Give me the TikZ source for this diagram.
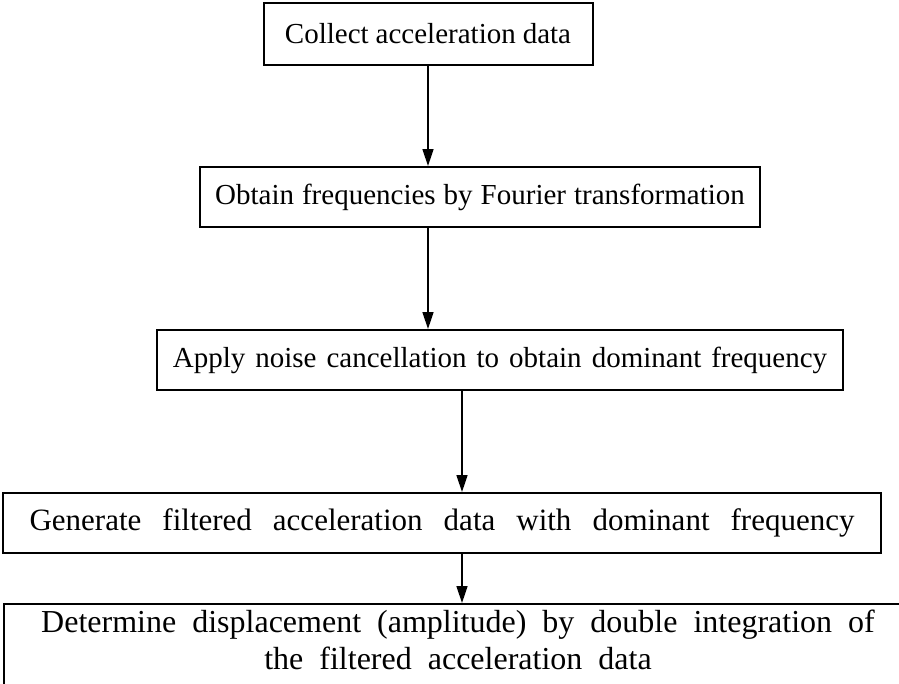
\documentclass[tikz,border=0pt]{standalone}
\usepackage{fontspec}
\setmainfont{Liberation Serif}
\usetikzlibrary{arrows.meta}
\newcommand\wordgap[1]{\spaceskip=#1\relax}
\tikzset{
  stepbox/.style={draw=black, line width=2pt, rectangle, inner sep=0pt, align=center,
    font=\fontsize{29}{36}\selectfont},
  flow/.style={draw=black, line width=1.5pt, -{Triangle[length=17pt,width=11pt]}}
}
\begin{document}
\begin{tikzpicture}[x=1pt,y=1pt]
\useasboundingbox (0,0) rectangle (899,-683);
\clip (0,0) rectangle (899,-683);
\node[stepbox, minimum width=329pt, minimum height=62pt] (b1) at (428,-34) {\wordgap{7pt}Collect acceleration data};
\node[stepbox, minimum width=560pt, minimum height=60pt] (b2) at (480,-197) {\wordgap{8pt}Obtain frequencies by Fourier transformation};
\node[stepbox, minimum width=686pt, minimum height=60pt] (b3) at (500,-360) {\wordgap{10pt}Apply noise cancellation to obtain dominant frequency};
\node[stepbox, minimum width=878pt, minimum height=60pt, font=\fontsize{31}{36}\selectfont] (b4) at (442,-523) {\wordgap{21pt}Generate filtered acceleration data with dominant frequency};
\node[stepbox, anchor=north west, minimum width=920pt, minimum height=110pt] (b5) at (3,-603) {};
\node[font=\fontsize{32}{37}\selectfont, align=center, anchor=north, inner sep=0pt] (t5) at (458,-610) {\wordgap{16pt}Determine displacement (amplitude) by double integration of\\\wordgap{16pt}the filtered acceleration data};
\coordinate (a1s) at (428,-66);
\draw[flow] (b1.south -| a1s) -- (b2.north -| a1s);
\draw[flow] (b2.south -| a1s) -- (b3.north -| a1s);
\coordinate (a3s) at (462,-410);
\draw[flow] (b3.south -| a3s) -- (b4.north -| a3s);
\draw[flow] (b4.south -| a3s) -- (b5.north -| a3s);
\end{tikzpicture}
\end{document}
